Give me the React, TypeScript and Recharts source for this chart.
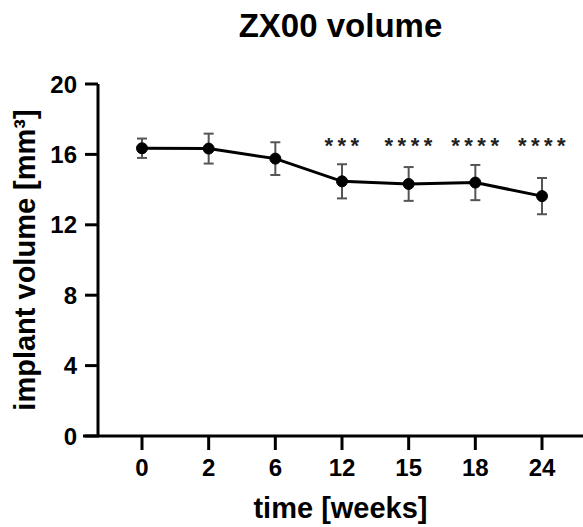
import React from 'react';
import * as R from 'recharts';

const { LineChart, Line, XAxis, YAxis, ErrorBar, LabelList, Customized } = R as any;

const timeLabels = ['0', '2', '6', '12', '15', '18', '24'];
const meanVolume = [16.35, 16.33, 15.76, 14.47, 14.32, 14.4, 13.63];
const sdVolume = [0.55, 0.85, 0.93, 0.97, 0.96, 1.0, 1.03];
const significance = ['', '', '', '***', '****', '****', '****'];
const yTicks = [0, 4, 8, 12, 16, 20];
const starLevel = 16.5;

const data = timeLabels.map((t, i) => ({
  time: t,
  volume: meanVolume[i],
  err: sdVolume[i],
  sigPos: significance[i] ? starLevel : null,
  sig: significance[i] || undefined,
}));

const FONT = '"Liberation Sans", Arial, Helvetica, sans-serif';

function AxisExtension() {
  const usePlotArea = (R as any).usePlotArea;
  const plot = usePlotArea ? usePlotArea() : null;
  if (!plot) return null;
  const yb = plot.y + plot.height;
  return (
    <line x1={plot.x - 15} x2={plot.x + 1} y1={yb} y2={yb} stroke="#000" strokeWidth={3} />
  );
}

const YLabel = (props: any) => {
  const vb = props.viewBox || { x: 0, y: 84, width: 98, height: 352 };
  const cx = vb.x + 35;
  const cy = vb.y + vb.height / 2;
  return (
    <text
      x={cx}
      y={cy}
      transform={`rotate(-90, ${cx}, ${cy})`}
      textAnchor="middle"
      fontFamily={FONT}
      fontWeight="bold"
      fontSize={29}
      fill="#000"
    >
      implant volume [mm³]
    </text>
  );
};

export default function App() {
  return (
    <div style={{ position: 'absolute', left: 0, top: 0, width: 583, height: 527, overflow: 'hidden', background: '#fff' }}>
      <div
        style={{
          position: 'absolute',
          left: 98,
          width: 485,
          top: 8,
          textAlign: 'center',
          fontFamily: FONT,
          fontWeight: 'bold',
          fontSize: 33,
          lineHeight: '36px',
          color: '#000',
        }}
      >
        ZX00 volume
      </div>
      <LineChart
        width={583}
        height={527}
        data={data}
        margin={{ top: 84, right: 0, bottom: 0, left: 0 }}
      >
        <XAxis
          dataKey="time"
          type="category"
          scale="point"
          padding={{ left: 44, right: 41 }}
          height={91}
          axisLine={{ stroke: '#000', strokeWidth: 3 }}
          tickLine={{ stroke: '#000', strokeWidth: 3 }}
          tickSize={14}
          tickMargin={9}
          tick={{ fill: '#000', fontFamily: FONT, fontWeight: 'bold', fontSize: 24 }}
          interval={0}
          label={{
            value: 'time [weeks]',
            position: 'insideBottom',
            offset: 9,
            style: { fill: '#000', fontFamily: FONT, fontWeight: 'bold', fontSize: 29 },
          }}
        />
        <YAxis
          type="number"
          domain={[0, 20]}
          ticks={yTicks}
          width={98}
          axisLine={{ stroke: '#000', strokeWidth: 3 }}
          tickLine={{ stroke: '#000', strokeWidth: 3 }}
          tickSize={13}
          tickMargin={8}
          tick={{ fill: '#000', fontFamily: FONT, fontWeight: 'bold', fontSize: 24 }}
          label={<YLabel />}
        />
        <Line
          dataKey="volume"
          stroke="#000"
          strokeWidth={3}
          dot={{ r: 5.5, fill: '#000', stroke: '#000', strokeWidth: 1 }}
          isAnimationActive={false}
        >
          <ErrorBar dataKey="err" direction="y" width={5} stroke="#555" strokeWidth={2} />
        </Line>
        <Line
          dataKey="sigPos"
          stroke="none"
          dot={false}
          activeDot={false}
          isAnimationActive={false}
          connectNulls={false}
        >
          <LabelList
            dataKey="sig"
            position="center"
            fill="#222"
            fontFamily={FONT}
            fontWeight="bold"
            fontSize={22}
            letterSpacing={4.5}
            dx={2}
          />
        </Line>
        {Customized ? <Customized component={AxisExtension} /> : null}
      </LineChart>
    </div>
  );
}
